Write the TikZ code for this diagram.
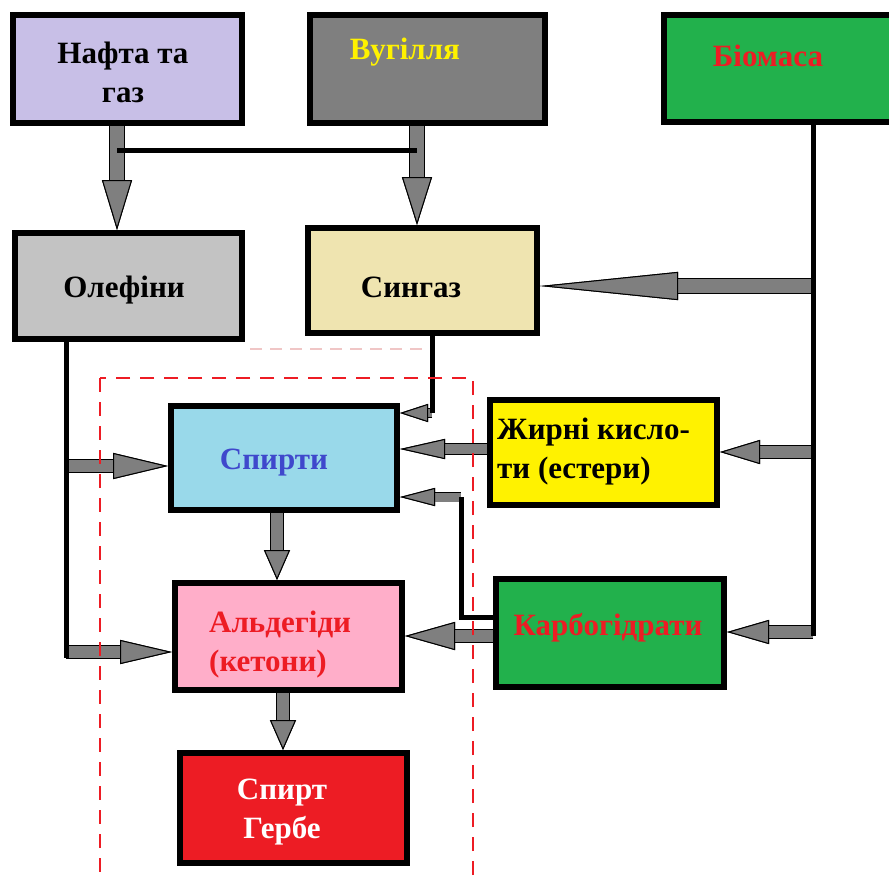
\documentclass[tikz,border=0pt]{standalone}
\usepackage{fontspec}
\setmainfont{Liberation Serif}
\usetikzlibrary{arrows.meta}
\definecolor{arrowgray}{HTML}{7F7F7F}
\definecolor{cnaf}{HTML}{C8BFE7}
\definecolor{cvug}{HTML}{7F7F7F}
\definecolor{cgreen}{HTML}{22B14C}
\definecolor{cole}{HTML}{C3C3C3}
\definecolor{csyn}{HTML}{EFE4B0}
\definecolor{cspi}{HTML}{99D9EA}
\definecolor{czhy}{HTML}{FFF200}
\definecolor{cald}{HTML}{FFAEC9}
\definecolor{cred}{HTML}{ED1C24}
\definecolor{cblue}{HTML}{3F48CC}
\definecolor{cfaint}{HTML}{F0C6C6}
\tikzset{
  box/.style={draw=black, line width=6pt, rectangle, inner sep=0pt},
  txt/.style={font=\fontsize{31}{39}\selectfont\bfseries, inner sep=0pt, align=center},
  conn/.style={draw=black, line width=5pt},
  ga/.style n args={3}{draw=arrowgray, line width=#1,
     preaction={draw=black, line width=#1+1.6pt},
     -{Triangle[length=#2, width=#3, fill=arrowgray, color=black, line width=1pt]}},
  reddash/.style={draw=cred, line width=1.6pt, dash pattern=on 14pt off 10pt},
}
\begin{document}
\begin{tikzpicture}[x=1pt, y=-1pt]
\useasboundingbox (0,0) rectangle (889,876);
% boxes
\node[box, fill=cnaf,  minimum width=229pt, minimum height=108pt] (naf) at (127.5,69) {};
\node[box, fill=cvug,  minimum width=235pt, minimum height=108pt] (vug) at (427.5,69) {};
\node[box, fill=cgreen,minimum width=228pt, minimum height=107pt] (bio) at (778,68.5) {};
\node[box, fill=cole,  minimum width=227pt, minimum height=106pt] (ole) at (128.5,286) {};
\node[box, fill=csyn,  minimum width=229pt, minimum height=105pt] (syn) at (422.5,280.5) {};
\node[box, fill=cspi,  minimum width=226pt, minimum height=104pt] (spi) at (284,458) {};
\node[box, fill=czhy,  minimum width=227pt, minimum height=105pt] (zhy) at (603.5,452.5) {};
\node[box, fill=cald,  minimum width=227pt, minimum height=107pt] (ald) at (288.5,636.5) {};
\node[box, fill=cgreen,minimum width=228pt, minimum height=108pt] (kar) at (610,633) {};
\node[box, fill=cred,  minimum width=227pt, minimum height=110pt] (ger) at (293.5,808) {};
% texts
\node[txt] (nafT) at (123,72) {Нафта та\\газ};
\node[txt, text=czhy] (vugT) at (405,52) {Вугілля};
\node[txt, text=cred] (bioT) at (768,56) {Біомаса};
\node[txt] (oleT) at (124,290) {Олефіни};
\node[txt] (synT) at (411,287) {Сингаз};
\node[txt, text=cblue] (spiT) at (274,463) {Спирти};
\node[txt, anchor=west, align=left] (zhyT) at (497,452) {Жирні кисло-\\ти (естери)};
\node[txt, anchor=west, align=left, text=cred] (aldT) at (209,645) {Альдегіди\\(кетони)};
\node[txt, text=cred] (karT) at (608,628) {Карбогідрати};
\node[txt, text=white] (gerT) at (282,812) {Спирт\\Гербе};
% junction coordinates
\coordinate (J1) at (117,150);
\coordinate (J2) at (417,150);
\coordinate (bioX) at (813,633);
\coordinate (rowSyn) at (813,286);
\coordinate (rowZhy) at (813,452);
\coordinate (rowKar) at (813,632);
\coordinate (zs) at (450,449);
\coordinate (sj) at (432,413);
\coordinate (kj1) at (461,617);
\coordinate (kj2) at (461,497);
\coordinate (ka) at (450,636);
\coordinate (oj) at (66,655);
\coordinate (o1) at (66,466);
\coordinate (o2) at (66,652);
\coordinate (sa) at (277,540);
\coordinate (ag) at (283,720);
% gray arrows
\draw[ga={14pt}{50pt}{30pt}] (J1 |- naf.south) -- (J1 |- ole.north);
\draw[ga={14pt}{48pt}{30pt}] (J2 |- vug.south) -- (J2 |- syn.north);
\draw[ga={14pt}{138pt}{28pt}] (rowSyn) -- (rowSyn -| syn.east);
\draw[ga={12pt}{40pt}{24pt}] (rowZhy) -- (rowZhy -| zhy.east);
\draw[ga={12pt}{42pt}{24pt}] (rowKar) -- (rowKar -| kar.east);
\draw[ga={10pt}{45pt}{20pt}] (zs -| zhy.west) -- (zs -| spi.east);
\draw[ga={8pt}{28pt}{18pt}] (sj) -- (sj -| spi.east);
\draw[ga={9pt}{35pt}{18pt}] (kj2) -- (kj2 -| spi.east);
\draw[ga={12pt}{50pt}{28pt}] (ka -| kar.west) -- (ka -| ald.east);
\draw[ga={12pt}{55pt}{26pt}] (o1) -- (o1 -| spi.west);
\draw[ga={12pt}{52pt}{24pt}] (o2) -- (o2 -| ald.west);
\draw[ga={12pt}{30pt}{26pt}] (sa |- spi.south) -- (sa |- ald.north);
\draw[ga={12pt}{30pt}{26pt}] (ag |- ald.south) -- (ag |- ger.north);
% black lines
\draw[conn] (J1) -- (J2);
\draw[conn, line cap=rect] (bioX |- bio.south) -- (bioX);
\draw[conn, line join=miter] (sj |- syn.south) -- (sj);
\draw[conn, line join=miter] (kj1 -| kar.west) -- (kj1) -- (kj2);
\draw[conn, line cap=rect] (oj |- ole.south) -- (oj);
% dashed frames
\draw[draw=cfaint, line width=2pt, dash pattern=on 12pt off 8pt] (250,349) -- (425,349);
\draw[reddash] (100,378) rectangle (473,884);
\end{tikzpicture}
\end{document}
